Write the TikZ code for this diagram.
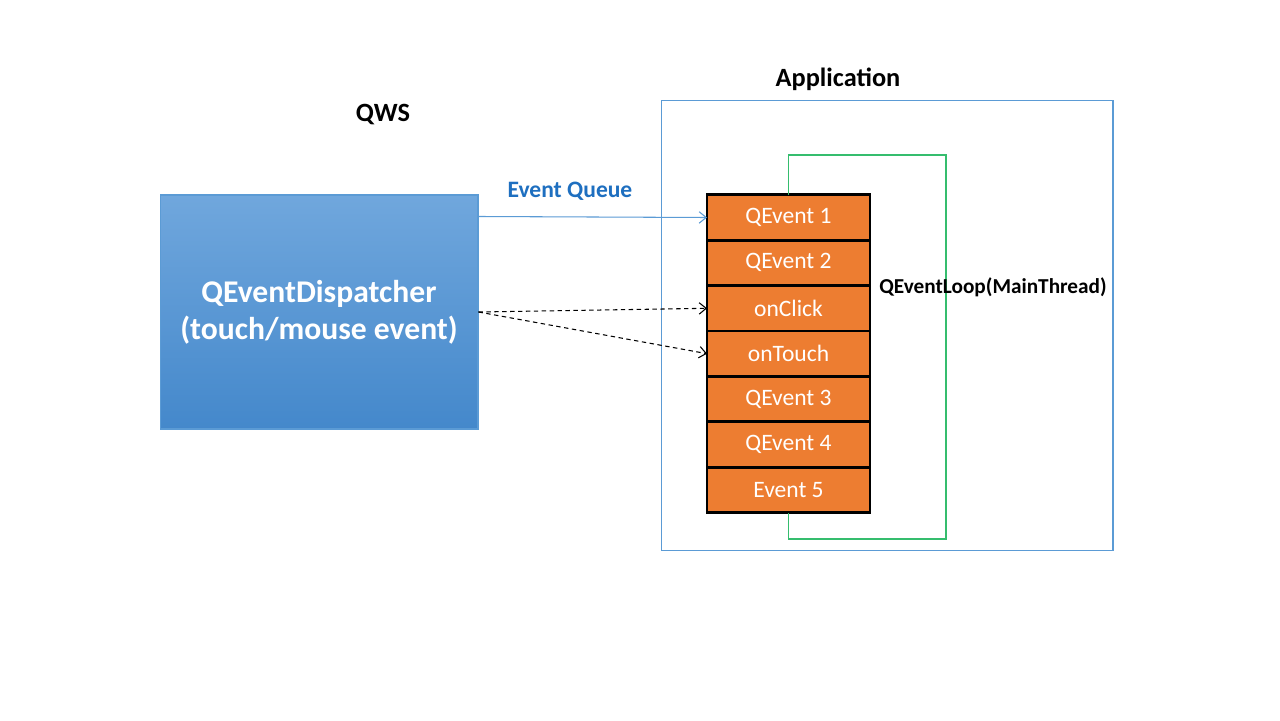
\documentclass[tikz,border=0pt]{standalone}
\usepackage{fontspec}
\setmainfont{Carlito}
\usetikzlibrary{positioning,arrows.meta}
\definecolor{appblue}{HTML}{5B9BD5}
\definecolor{qtop}{HTML}{70A7DD}
\definecolor{qbottom}{HTML}{4488CB}
\definecolor{evorange}{HTML}{ED7D31}
\definecolor{loopgreen}{HTML}{35BD6E}
\definecolor{queueblue}{HTML}{1E6FC0}
\tikzset{
  evcell/.style={draw=black, line width=1.6pt, fill=evorange, text=white,
    minimum width=3.26cm, minimum height=0.908cm, outer sep=0pt,
    font=\fontsize{13.4}{15}\selectfont},
  title/.style={font=\fontsize{15}{18}\selectfont\bfseries},
  tip/.style={-{Straight Barb[length=4pt,width=6.5pt]}}
}
\begin{document}
\begin{tikzpicture}[x=0.02cm,y=-0.02cm]
			%%%%% START %%%%%
			\fill[white] (0,0) rectangle (1280,720);
			\useasboundingbox (0,0) rectangle (1280,720);
			
			% labels
			\node[title] (qws) at (383,115) {QWS};
			\node[title] (apptitle) at (838,79) {Application};
			
			% application frame
			\node[draw=appblue, line width=0.6pt, minimum width=9.04cm, minimum height=9.02cm] (app) at (887,325.5) {};
			
			% dispatcher
			\node[draw=appblue, line width=0.6pt, top color=qtop, bottom color=qbottom,
			  minimum width=6.36cm, minimum height=4.68cm, text=white, align=center,
			  font=\fontsize{18}{21}\selectfont\bfseries] (disp) at (319,312)
			  {QEventDispatcher\\(touch/mouse event)};
			
			% event stack
			\node[evcell] (ev1) at (788.5,217.5) {QEvent 1};
			\node[evcell, below=0pt of ev1] (ev2) {QEvent 2};
			\node[evcell, below=0pt of ev2] (ev3) {onClick};
			\node[evcell, below=0pt of ev3] (ev4) {onTouch};
			\node[evcell, below=0pt of ev4] (ev5) {QEvent 3};
			\node[evcell, below=0pt of ev5] (ev6) {QEvent 4};
			\node[evcell, below=0pt of ev6] (ev7) {Event 5};
			
			% main loop
			\coordinate (looptr) at (946,155);
			\coordinate (loopbr) at (946,539);
			\draw[loopgreen, line width=0.8pt] (ev1.north) -- (ev1.north |- looptr) -- (looptr) -- (loopbr) -- (ev7.south |- loopbr) -- (ev7.south);
			\node[font=\fontsize{12.1}{14}\selectfont\bfseries] (looplabel) at (993,287) {QEventLoop(MainThread)};
			
			% queue
			\node[font=\fontsize{13.4}{15}\selectfont\bfseries, text=queueblue] (queuelabel) at (570,191) {Event Queue};
			\draw[tip, appblue, line width=0.6pt] ([yshift=-0.44cm]disp.north east) -- (ev1.west);
			\draw[tip, black, line width=0.6pt, dash pattern=on 2.5pt off 2pt] (disp.east) -- (ev3.west);
			\draw[tip, black, line width=0.6pt, dash pattern=on 2.5pt off 2pt] (disp.east) -- (ev4.west);
			
			%%%%% END %%%%%
\end{tikzpicture}
\end{document}
